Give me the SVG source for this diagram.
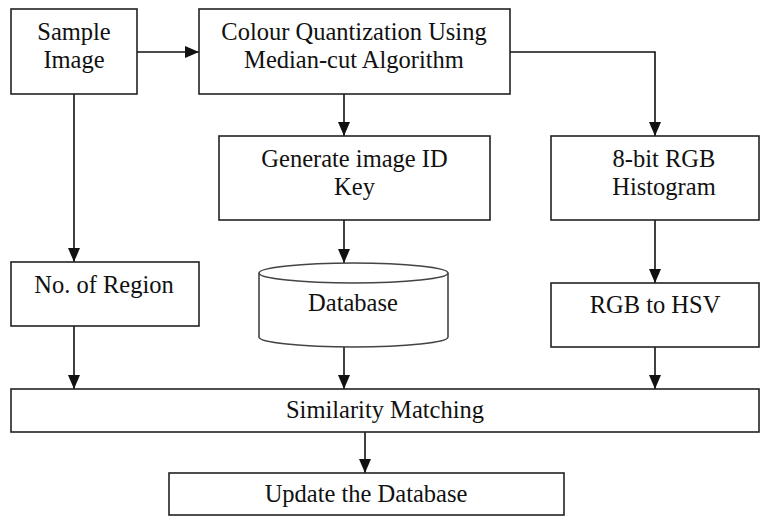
<svg xmlns="http://www.w3.org/2000/svg" width="772" height="516" viewBox="0 0 772 516">
<defs>
<marker id="ah" markerUnits="userSpaceOnUse" markerWidth="14" markerHeight="12" refX="14" refY="6" orient="auto">
<path d="M0,0 L14,6 L0,12 Z" fill="#111"/>
</marker>
<style>
.box{fill:#fff;stroke:#222;stroke-width:1.6}
.t{font-family:'Liberation Serif','DejaVu Serif','Times New Roman',serif;font-size:24.5px;fill:#111;text-anchor:middle}
.c{fill:none;stroke:#111;stroke-width:1.6;marker-end:url(#ah)}
</style>
</defs>
<rect width="772" height="516" fill="#fff"/>
<g id="connectors">
<path class="c" d="M137,52 H199"/>
<path class="c" d="M510,52 H655 V136"/>
<path class="c" d="M344,94 V136"/>
<path class="c" d="M74,94 V262"/>
<path class="c" d="M344,220 V263"/>
<path class="c" d="M655,220 V283"/>
<path class="c" d="M74,326 V389"/>
<path class="c" d="M344,347 V389"/>
<path class="c" d="M655,347 V389"/>
<path class="c" d="M365,432 V473"/>
</g>
<g id="sample-image">
<rect class="box" x="11" y="9" width="126" height="85"/>
<text class="t" x="74" y="40" font-family="Liberation Serif, serif">Sample</text>
<text class="t" x="74" y="68" font-family="Liberation Serif, serif">Image</text>
</g>
<g id="colour-quantization">
<rect class="box" x="199" y="9" width="311" height="85"/>
<text class="t" x="354" y="40">Colour Quantization Using</text>
<text class="t" x="354" y="68">Median-cut Algorithm</text>
</g>
<g id="generate-key">
<rect class="box" x="219" y="136" width="271" height="84"/>
<text class="t" x="354.5" y="167">Generate image ID</text>
<text class="t" x="354.5" y="195">Key</text>
</g>
<g id="rgb-histogram">
<rect class="box" x="551" y="136" width="208" height="84"/>
<text class="t" x="664" y="167">8-bit RGB</text>
<text class="t" x="664" y="195">Histogram</text>
</g>
<g id="no-of-region">
<rect class="box" x="11" y="262" width="188" height="64"/>
<text class="t" x="104" y="293">No. of Region</text>
</g>
<g id="database">
<path d="M259,273 V337 A94.5,10 0 0 0 448,337 V273" fill="#fff" stroke="#444" stroke-width="1.6"/>
<ellipse cx="353.5" cy="273" rx="94.5" ry="10" fill="#fff" stroke="#444" stroke-width="1.6"/>
<text class="t" x="353" y="311">Database</text>
</g>
<g id="rgb-to-hsv">
<rect class="box" x="551" y="283" width="208" height="64"/>
<text class="t" x="655" y="313">RGB to HSV</text>
</g>
<g id="similarity-matching">
<rect class="box" x="11" y="389" width="748" height="43"/>
<text class="t" x="385" y="418">Similarity Matching</text>
</g>
<g id="update-database">
<rect class="box" x="169" y="473" width="395" height="42"/>
<text class="t" x="366" y="502">Update the Database</text>
</g>
</svg>
